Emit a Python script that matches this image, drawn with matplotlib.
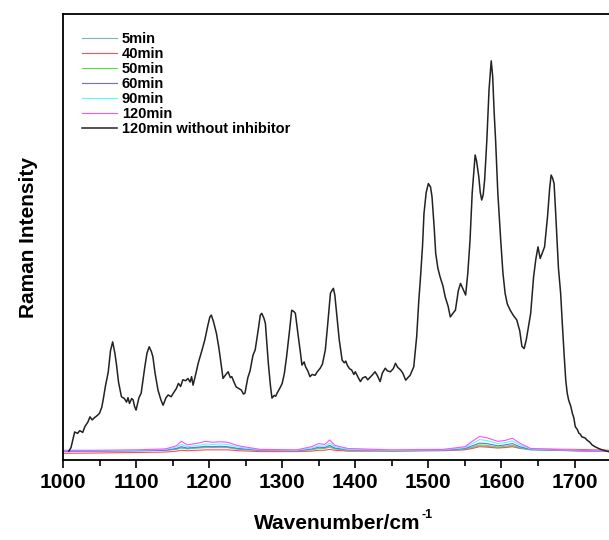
import matplotlib
matplotlib.use('Agg')
import matplotlib.pyplot as plt
from matplotlib.ticker import MultipleLocator

plt.rcParams['font.family'] = ['Liberation Sans', 'DejaVu Sans']

# 120min without inhibitor (black trace)
bk_wn = [1008, 1011, 1016, 1020, 1023, 1027, 1030, 1034, 1037, 1040, 1043, 1047, 1050, 1053, 1055, 1058,
         1062, 1065, 1068, 1071, 1073, 1076, 1080, 1084, 1087, 1089, 1091, 1094, 1096, 1098, 1100, 1104,
         1107, 1110, 1112, 1115, 1118, 1121, 1123, 1126, 1130, 1134, 1137, 1141, 1144, 1148, 1151, 1155,
         1158, 1161, 1164, 1168, 1171, 1174, 1176, 1178, 1182, 1185, 1190, 1194, 1198, 1201, 1203, 1206,
         1210, 1213, 1215, 1219, 1222, 1226, 1229, 1231, 1234, 1237, 1241, 1244, 1247, 1249, 1253, 1256,
         1260, 1263, 1267, 1270, 1272, 1275, 1277, 1281, 1284, 1286, 1289, 1291, 1293, 1297, 1300, 1303,
         1306, 1310, 1313, 1316, 1318, 1322, 1325, 1327, 1330, 1332, 1335, 1338, 1341, 1345, 1348, 1352,
         1355, 1359, 1362, 1366, 1368, 1370, 1372, 1375, 1378, 1382, 1385, 1387, 1389, 1392, 1395, 1398,
         1400, 1404, 1407, 1410, 1414, 1417, 1421, 1424, 1427, 1430, 1434, 1437, 1441, 1444, 1448, 1452,
         1455, 1458, 1462, 1465, 1469, 1472, 1475, 1480, 1484, 1487, 1489, 1492, 1494, 1497, 1500, 1503,
         1505, 1508, 1510, 1513, 1516, 1520, 1523, 1527, 1530, 1534, 1537, 1541, 1544, 1547, 1551, 1554,
         1557, 1560, 1564, 1566, 1569, 1571, 1573, 1575, 1577, 1580, 1583, 1586, 1588, 1590, 1592, 1595,
         1599, 1602, 1605, 1608, 1612, 1616, 1621, 1625, 1628, 1631, 1634, 1637, 1640, 1644, 1647, 1650,
         1653, 1656, 1659, 1663, 1666, 1668, 1670, 1672, 1674, 1676, 1678, 1681, 1683, 1686, 1688, 1690,
         1692, 1695, 1697, 1699, 1701, 1704, 1706, 1708, 1710, 1714, 1717, 1721, 1724, 1728, 1733, 1736,
         1740, 1744, 1747, 1750]
bk_int = [20, 28, 63, 60, 66, 62, 75, 85, 97, 90, 95, 100, 105, 118, 135, 165,
          198, 245, 265, 240, 217, 175, 142, 138, 130, 140, 127, 138, 135, 120, 112, 140,
          150, 185, 209, 240, 254, 243, 232, 195, 157, 135, 123, 140, 146, 142, 150, 160,
          172, 165, 180, 178, 183, 175, 187, 168, 195, 217, 245, 269, 300, 321, 325, 310,
          284, 255, 232, 183, 190, 198, 185, 187, 175, 164, 160, 157, 148, 150, 185, 200,
          235, 247, 290, 325, 329, 318, 306, 217, 165, 139, 145, 143, 150, 162, 172, 195,
          232, 290, 336, 333, 329, 277, 240, 213, 220, 209, 200, 187, 192, 190, 198, 206,
          215, 247, 300, 374, 380, 385, 370, 321, 270, 224, 218, 222, 213, 205, 202, 192,
          198, 185, 176, 184, 187, 180, 187, 192, 198, 190, 176, 195, 206, 200, 198, 205,
          217, 208, 202, 195, 179, 185, 190, 209, 277, 360, 404, 480, 553, 600, 620, 612,
          590, 520, 464, 430, 411, 390, 366, 345, 321, 330, 336, 380, 396, 385, 370, 420,
          493, 600, 684, 670, 635, 600, 583, 595, 628, 717, 830, 895, 860, 780, 717, 600,
          493, 420, 374, 350, 336, 325, 314, 290, 255, 250, 270, 300, 329, 411, 450, 478,
          452, 465, 478, 545, 610, 639, 632, 620, 560, 493, 430, 374, 314, 230, 179, 150,
          134, 120, 105, 95, 75, 68, 60, 58, 52, 50, 45, 40, 34, 30, 26, 24,
          22, 20, 19, 18]

# spectra with inhibitor, shared wavenumber grid
wn = [1000, 1050, 1100, 1140, 1155, 1162, 1170, 1185, 1195, 1205, 1215, 1225, 1240, 1270, 1320, 1340, 1350,
      1358, 1365, 1372, 1390, 1450, 1520, 1550, 1560, 1570, 1580, 1595, 1605, 1615, 1625, 1640, 1700, 1750]
int_5 = [21, 21, 21, 22, 24, 27, 25, 27, 28, 28, 28, 28, 24, 22, 21, 23, 26,
         26, 29, 25, 22, 21, 22, 24, 28, 32, 31, 28, 29, 31, 26, 23, 21, 20]
int_40 = [15, 16, 17, 18, 20, 22, 21, 22, 23, 23, 23, 23, 21, 19, 19, 20, 22,
          22, 24, 22, 20, 20, 21, 23, 26, 30, 29, 27, 28, 30, 27, 25, 24, 22]
int_50 = [20, 20, 21, 22, 25, 28, 26, 28, 29, 29, 30, 29, 25, 22, 21, 24, 27,
          27, 30, 26, 22, 21, 22, 25, 29, 34, 33, 29, 31, 33, 28, 23, 21, 20]
int_60 = [19, 20, 21, 22, 26, 30, 27, 29, 31, 30, 31, 30, 26, 22, 21, 25, 29,
          28, 33, 27, 23, 21, 22, 26, 32, 38, 37, 32, 34, 37, 30, 24, 21, 19]
int_90 = [21, 21, 22, 24, 29, 35, 30, 33, 36, 35, 36, 35, 29, 23, 22, 27, 32,
          31, 38, 30, 24, 22, 23, 28, 37, 46, 44, 37, 39, 43, 34, 25, 22, 20]
int_120 = [22, 22, 23, 25, 32, 42, 34, 38, 42, 40, 41, 40, 32, 24, 23, 30, 37,
           35, 45, 33, 26, 23, 24, 30, 42, 53, 50, 42, 44, 49, 38, 26, 22, 20]

labels = ['5min', '40min', '50min', '60min', '90min', '120min']
colors = ['#7fb3ba', '#ff5050', '#50e050', '#6a6aff', '#50ffff', '#ff50ff']
series = [int_5, int_40, int_50, int_60, int_90, int_120]

fig = plt.figure(figsize=(6.09, 5.4), dpi=100)
ax = fig.add_axes([0.1034, 0.148, 0.9, 0.826])

for lab, c, s in zip(labels, colors, series):
    ax.plot(wn, s, color=c, lw=0.8, label=lab)
ax.plot(bk_wn, bk_int, color='#222222', lw=1.1, label='120min without inhibitor')

ax.set_xlim(1000, 1750)
ax.set_ylim(0, 1000)
ax.xaxis.set_major_locator(MultipleLocator(100))
ax.xaxis.set_minor_locator(MultipleLocator(50))
ax.tick_params(axis='x', which='major', direction='out', length=6, width=1.2, labelsize=15)
ax.tick_params(axis='x', which='minor', direction='out', length=4, width=1.2)
ax.set_yticks([])
for lb in ax.get_xticklabels():
    lb.set_fontweight('bold')
for sp in ax.spines.values():
    sp.set_linewidth(1.3)

# x label with a small "-1" superscript placed by hand
xl = ax.set_xlabel('Wavenumber/cm', fontsize=15, fontweight='bold', labelpad=16)
ax.set_ylabel('Raman Intensity', fontsize=15, fontweight='bold', labelpad=18)

leg = ax.legend(loc='upper left', frameon=False, prop={'weight': 'bold', 'size': 10.5},
                handlelength=2.4, handletextpad=0.35, labelspacing=0.07,
                borderaxespad=0.5, bbox_to_anchor=(0.01, 0.99))

fig.canvas.draw()
bb = xl.get_window_extent().transformed(fig.transFigure.inverted())
fig.text(bb.x1 + 0.002, bb.y1 - 0.012, '-1', fontsize=9, fontweight='bold', ha='left', va='bottom')

plt.savefig('out.png', dpi=100)
